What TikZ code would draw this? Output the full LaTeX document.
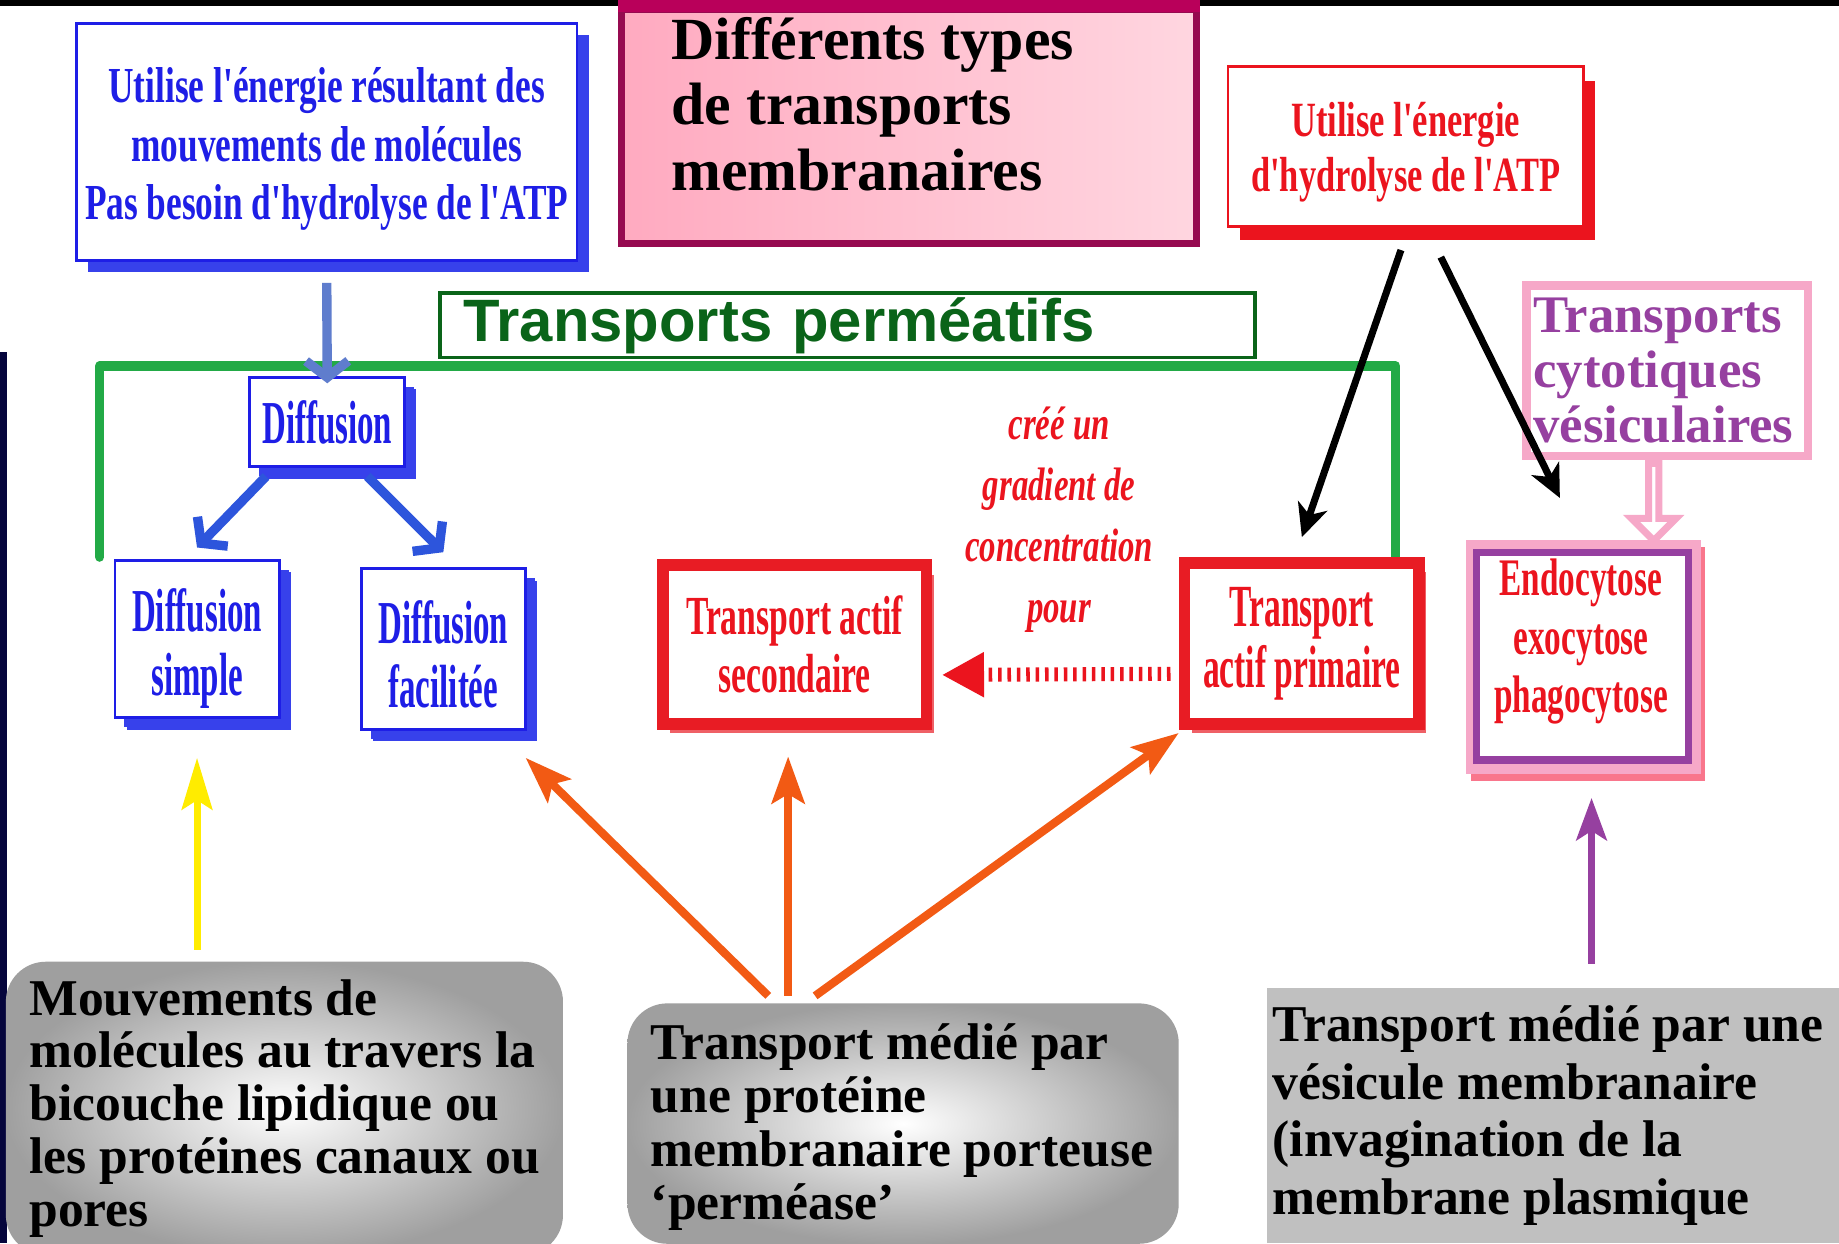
\documentclass[tikz,border=0pt]{standalone}
\usepackage{fontspec}
\setmainfont{Liberation Serif}
\newfontfamily\condA[FakeStretch=0.70]{Liberation Serif}
\newfontfamily\condB[FakeStretch=0.54]{Liberation Serif}
\newfontfamily\condK[FakeStretch=0.61]{Liberation Serif}
\newfontfamily\condL[FakeStretch=0.56]{Liberation Serif}
\newfontfamily\condR[FakeStretch=0.63]{Liberation Serif}
\newfontfamily\sansf{Liberation Sans}
\usetikzlibrary{arrows.meta,shapes.arrows,shadows,calc}
\definecolor{tblue}{RGB}{30,30,230}
\definecolor{sblue}{RGB}{55,65,235}
\definecolor{ablue}{RGB}{45,85,220}
\definecolor{steel}{RGB}{95,125,205}
\definecolor{tred}{RGB}{235,20,30}
\definecolor{bred}{RGB}{232,28,36}
\definecolor{magb}{RGB}{150,10,80}
\definecolor{magt}{RGB}{185,0,90}
\definecolor{pinkA}{RGB}{255,170,192}
\definecolor{pinkB}{RGB}{255,214,224}
\definecolor{gline}{RGB}{34,170,70}
\definecolor{gdark}{RGB}{10,100,25}
\definecolor{pinkf}{RGB}{246,168,200}
\definecolor{purp}{RGB}{150,64,160}
\definecolor{orng}{RGB}{242,90,20}
\definecolor{yell}{RGB}{255,236,0}
\definecolor{greyx}{RGB}{192,192,192}
\definecolor{navy}{RGB}{5,5,60}
\begin{document}
\begin{tikzpicture}[x=0.5pt,y=-0.5pt,
  bluebox/.style={draw=tblue, line width=1.2pt, fill=white, text=tblue, align=center, inner sep=0pt,
    drop shadow={shadow xshift=5pt, shadow yshift=-5pt, fill=sblue, opacity=1}},
  smallblue/.style={bluebox, font=\condB\bfseries\fontsize{26}{27}\selectfont,
    drop shadow={shadow xshift=4pt, shadow yshift=-4pt, fill=sblue, opacity=1}},
  redbox/.style={draw=tred, line width=1.2pt, fill=white, inner sep=0pt,
    drop shadow={shadow xshift=5pt, shadow yshift=-6pt, fill=tred, opacity=1}},
  redthick/.style={draw=bred, line width=5pt, fill=white, text=tred, align=center, inner sep=0pt,
    drop shadow={shadow xshift=3pt, shadow yshift=-4pt, fill=bred!70, opacity=1}},
  greybox/.style={rounded corners=17pt, inner color=white, outer color=gray!75, inner sep=0pt},
  greytext/.style={anchor=west, align=left, inner sep=0pt, font=\bfseries\fontsize{22}{22.6}\selectfont},
  blk/.style={black, line width=3pt, -{Stealth[length=14pt,width=13pt,inset=4pt]}},
  barrow/.style={ablue, line width=4pt, -{Straight Barb[length=7pt,width=18pt]}},
  orarrow/.style={orng, line width=3.5pt, -{Stealth[length=20pt,width=14pt,inset=4pt]}},
]
\useasboundingbox (0,0) rectangle (1568,1060);
\fill[black] (0,0) rectangle (1568,1060);
\fill[white] (0,5) rectangle (1568,1060);
\fill[navy] (0,300) rectangle (6,1060);

% green bracket
\draw[gline, line width=4pt, line join=round, line cap=round] (85,475) -- (85,312) -- (1190,312) -- (1190,477);

% top boxes
\node[bluebox, minimum width=213.5pt, minimum height=101pt] (A) at (278.5,121) {};
\node[text=tblue, align=center, inner sep=0pt, font=\condA\bfseries\fontsize{21.5}{25}\selectfont] (At) at (278.5,127)
  {Utilise l'énergie résultant des\\mouvements de molécules\\Pas besoin d'hydrolyse de l'ATP};
\shade[left color=pinkA, right color=pinkB] (530,8) rectangle (1020,208);
\node[draw=magb, line width=3pt, minimum width=245pt, minimum height=100pt, inner sep=0pt] (B) at (775,108) {};
\draw[magt, line width=5pt] (B.north west) -- (B.north east);
\node[anchor=north west, inner sep=0pt, align=left, font=\bfseries\fontsize{25.5}{28}\selectfont] (Bt) at (572,14)
  {Différents types\\de transports\\membranaires};
\node[redbox, minimum width=151.5pt, minimum height=68pt] (C) at (1198.5,125) {};
\node[text=tred, align=center, inner sep=0pt, font=\condA\bfseries\fontsize{21}{23.5}\selectfont] (Ct) at (1198.5,130)
  {Utilise l'énergie\\d'hydrolyse de l'ATP};

\node[draw=gdark, fill=white, line width=1.5pt, minimum width=347.5pt, minimum height=27.5pt, text width=327.5pt,
  align=left, inner xsep=10pt, inner ysep=0pt, text=gdark,
  font=\sansf\bfseries\fontsize{25.5}{28}\selectfont] (D) at (722.5,277.5) {Transports perméatifs};

\node[draw=pinkf, line width=3.5pt, fill=white, minimum width=120pt, minimum height=72.5pt, text width=114pt,
  inner xsep=3pt, inner ysep=0pt, align=left, text=purp, font=\bfseries\fontsize{22.5}{23.5}\selectfont] (P) at (1421.5,316)
  {Transports\\cytotiques\\vésiculaires};

% diffusion boxes
\node[smallblue, minimum width=66pt, minimum height=38pt] (F) at (279,360) {Diffusion};
\node[smallblue, minimum width=70pt, minimum height=67pt] (G) at (168,545) {};
\node[text=tblue, align=center, inner sep=0pt, font=\condB\bfseries\fontsize{26}{27}\selectfont] (Gt) at (168,553)
  {Diffusion\\simple};
\node[smallblue, minimum width=70pt, minimum height=68.5pt] (H) at (378,553.5) {};
\node[text=tblue, align=center, inner sep=0pt, font=\condB\bfseries\fontsize{26}{27}\selectfont] (Ht) at (378,558)
  {Diffusion\\facilitée};

% red boxes
\node[redthick, minimum width=112.5pt, minimum height=67.5pt, font=\condK\bfseries\fontsize{23.5}{25}\selectfont] (K) at (677.5,549.5)
  {Transport actif\\secondaire};
\node[redthick, minimum width=100pt, minimum height=68.5pt, font=\condL\bfseries\fontsize{25.5}{26}\selectfont] (L) at (1110,548.5)
  {Transport\\actif primaire};

\node[text=tred, align=center, inner sep=0pt, font=\condA\bfseries\itshape\fontsize{20}{26}\selectfont] (M) at (903,443)
  {créé un\\gradient de\\concentration\\pour};

% endocytose
\node[fill=pinkf, minimum width=100pt, minimum height=100pt, inner sep=0pt,
  drop shadow={shadow xshift=2pt, shadow yshift=-3pt, fill=pinkf!70!red, opacity=1}] (Rout) at (1350,560) {};
\node[draw=purp, line width=3pt, fill=white, minimum width=90.5pt, minimum height=88.5pt, inner sep=0pt] (R) at (1349.5,559.5) {};
\node[text=tred, align=center, inner sep=0pt, font=\condR\bfseries\fontsize{22.5}{25}\selectfont] (Rt) at (1348,547)
  {Endocytose\\exocytose\\phagocytose};

% grey boxes
\node[greybox, minimum width=237.5pt, minimum height=125pt] (V) at (242.5,945) {};
\node[greytext, font=\bfseries\fontsize{22}{22.5}\selectfont] (Vt) at ([xshift=10pt]V.west)
  {Mouvements de\\molécules au travers la\\bicouche lipidique ou\\les protéines canaux ou\\pores};
\node[greybox, minimum width=235pt, minimum height=102.5pt] (W) at (770,958) {};
\node[greytext, font=\bfseries\fontsize{22}{22.8}\selectfont] (Wt) at ([xshift=10pt,yshift=-1.5pt]W.west)
  {Transport médié par\\une protéine\\membranaire porteuse\\‘perméase’};
\node[fill=greyx, minimum width=244pt, minimum height=109pt, inner sep=0pt] (X) at (1324,951) {};
\node[greytext, font=\bfseries\fontsize{22}{24.5}\selectfont] (Xt) at ([xshift=2.5pt]X.west)
  {Transport médié par une\\vésicule membranaire\\(invagination de la\\membrane plasmique};

% connectors
\draw[steel, line width=4pt, -{Straight Barb[length=7pt,width=18pt]}, shorten <=9pt, shorten >=-3pt] (A.south) -- (F.north);
\draw[barrow] ([xshift=7.5pt,yshift=-3.5pt]F.south west) -- ([yshift=5pt]G.north);
\draw[barrow] ([xshift=-16.5pt,yshift=-3.5pt]F.south east) -- ([yshift=6.5pt]H.north);

\draw[blk] ([xshift=-2pt,yshift=-9.5pt]C.south) -- ([yshift=8.5pt]L.north);
\draw[blk] ([xshift=15pt,yshift=-12.5pt]C.south) -- ([xshift=-10pt,yshift=17.5pt]Rout.north);

\draw[tred, line width=6pt, dash pattern=on 1.5pt off 2.5pt, -{Triangle[length=18pt,width=18pt]},
  shorten <=3.5pt, shorten >=4pt] ([yshift=-13pt]L.west) -- ([yshift=-13pt]K.east);

\coordinate (qa) at ([xshift=-5.75pt]P.south);
\coordinate (qb) at (qa |- Rout.north);
\node[single arrow, shape border rotate=270, draw=pinkf, line width=3pt, fill=white, inner sep=0pt,
  minimum width=19pt, minimum height=33pt, single arrow head extend=5pt, single arrow head indent=0pt] (Q)
  at ($(qa)!0.5!(qb)$) {};

\draw[yell, line width=3pt, -{Stealth[length=22pt,width=13pt,inset=4pt]}, shorten <=5pt, shorten >=16.5pt]
  (G.south |- V.north) -- (G.south);

\coordinate (wtop) at ([xshift=-49pt,yshift=3pt]W.north);
\draw[orarrow] ([xshift=-8.5pt]wtop) -- ([xshift=-0.5pt,yshift=-11.5pt]H.south east);
\draw[orarrow] (wtop) -- ([xshift=-2.75pt,yshift=-11.5pt]K.south);
\draw[orarrow] ([xshift=11.5pt]wtop) -- ([yshift=-1.5pt]L.south west);

\coordinate (pbase) at ([xshift=3.5pt]Rout.south);
\draw[purp, line width=3pt, -{Stealth[length=18pt,width=13pt,inset=4pt]}, shorten <=10pt, shorten >=10pt]
  (pbase |- X.north) -- (pbase);
\end{tikzpicture}
\end{document}
